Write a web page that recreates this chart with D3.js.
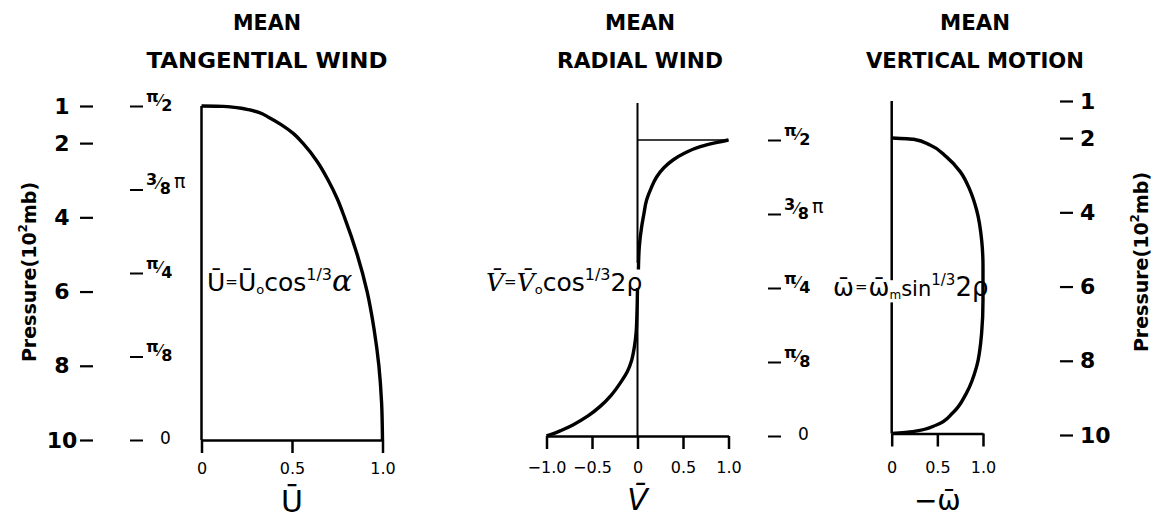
<!DOCTYPE html>
<html>
<head>
<meta charset="utf-8">
<script src="https://cdn.jsdelivr.net/npm/d3@7"></script>
<style>
  body { margin: 0; background: #fff; }
  svg { display: block; }
  text { font-family: "DejaVu Sans", sans-serif; fill: #000; }
</style>
</head>
<body>
<script>
// Pressure levels (10^2 mb) labelled on the outer axes
const pressureTicks = [1, 2, 4, 6, 8, 10];
// Angle ticks, in units of π
const angleTicks = [0, 0.125, 0.25, 0.375, 0.5];
const angleTickLabels = ["0", "π/8", "π/4", "3/8 π", "π/2"];

// Mean tangential wind ū/ū0 against pressure
const tangentialPressure = [1, 1.01, 1.03, 1.06, 1.1, 1.18, 1.3, 1.5, 1.75, 2, 2.5, 3, 3.5, 4, 5, 6, 7, 8, 9, 10];
const tangentialWind     = [0, 0.12, 0.17, 0.22, 0.26, 0.32, 0.37, 0.44, 0.51, 0.56, 0.64, 0.70, 0.75, 0.79, 0.86, 0.915, 0.953, 0.98, 0.995, 1.0];

// Mean radial wind v/v0: outflow branch aloft, inflow branch below
const radialUpperPressure = [2, 2.08, 2.18, 2.35, 2.54, 2.75, 3.0, 3.3, 3.62, 4.0, 4.34, 4.88, 5.5];
const radialUpperWind     = [1.0, 0.85, 0.69, 0.52, 0.39, 0.29, 0.21, 0.15, 0.10, 0.07, 0.046, 0.02, 0.01];
const radialLowerPressure = [6.0, 6.6, 7.2, 7.6, 7.95, 8.25, 8.57, 8.9, 9.2, 9.45, 9.7, 9.85, 9.95, 10];
const radialLowerWind     = [0.0, -0.005, -0.015, -0.035, -0.064, -0.11, -0.19, -0.29, -0.41, -0.54, -0.71, -0.84, -0.94, -1.0];

// Mean vertical motion -ω/ωm against pressure
const verticalPressure = [2, 2.035, 2.19, 2.51, 2.91, 3.41, 3.95, 4.76, 5.48, 6.39, 7.28, 8.19, 8.9, 9.44, 9.77, 9.95, 10];
const verticalMotion   = [0, 0.24, 0.42, 0.60, 0.75, 0.857, 0.93, 0.985, 1.0, 1.0, 0.985, 0.93, 0.82, 0.67, 0.49, 0.23, 0];

// Abscissa ticks of the three profiles
const uTicks = [0, 0.5, 1];
const uTickLabels = ["0", "0.5", "1.0"];
const vTicks = [-1, -0.5, 0, 0.5, 1];
const vTickLabels = ["−1.0", "−0.5", "0", "0.5", "1.0"];
const wTicks = [0, 0.5, 1];
const wTickLabels = ["0", "0.5", "1.0"];

const W = 1158, H = 523;
const svg = d3.select("body").append("svg").attr("width", W).attr("height", H);

const INK = "#000";
const zip = (ps, vs) => ps.map((p, i) => ({ p, v: vs[i] }));

// ---------- scales ----------
const yLeft  = d3.scaleLinear().domain([1, 10]).range([106, 440]);
const yMid   = d3.scaleLinear().domain([2, 10]).range([140, 436]);
const yRight = d3.scaleLinear().domain([2, 10]).range([138, 433.5]);
const yPressR = d3.scaleLinear().domain([1, 10]).range([101, 435]);

const aLeft = d3.scaleLinear().domain([0, 0.5]).range([440, 106]);
const aMid  = d3.scaleLinear().domain([0, 0.5]).range([436, 140]);

const xU = d3.scaleLinear().domain([0, 1]).range([201.5, 382.5]);
const xV = d3.scaleLinear().domain([-1, 1]).range([546.5, 728.5]);
const xW = d3.scaleLinear().domain([0, 1]).range([891.7, 983]);

// ---------- titles ----------
function title(cx, lines) {
  lines.forEach((l, i) => {
    svg.append("text")
      .attr("x", cx).attr("y", i === 0 ? 30 : 68)
      .attr("text-anchor", "middle")
      .attr("font-weight", "bold").attr("font-size", 22)
      .attr("textLength", l.len).attr("lengthAdjust", "spacingAndGlyphs")
      .text(l.t);
  });
}
title(267, [{ t: "MEAN", len: 68 }, { t: "TANGENTIAL WIND", len: 241 }]);
title(640, [{ t: "MEAN", len: 70 }, { t: "RADIAL WIND", len: 166 }]);
title(975, [{ t: "MEAN", len: 70 }, { t: "VERTICAL MOTION", len: 218 }]);

// ---------- helpers ----------
function styleAxis(g, w) {
  g.select(".domain").attr("stroke", INK).attr("stroke-width", w);
  g.selectAll(".tick line").attr("stroke", INK).attr("stroke-width", w);
}

// angle label written as a slanted fraction, e.g. π/2 or 3/8 π
function fractionLabel(textSel, label) {
  textSel.text(null);
  if (!label.includes("/")) {
    textSel.append("tspan").attr("dx", 14).attr("font-size", 17).text(label);
    return;
  }
  const [num, rest] = label.split("/");
  const parts = rest.split(" ");
  const den = parts[0], suffix = parts[1];
  textSel.append("tspan").attr("font-size", 16).attr("font-weight", "bold").attr("dy", "-0.3em").text(num);
  textSel.append("tspan").attr("font-size", 16).attr("dy", "0.25em").text("⁄");
  textSel.append("tspan").attr("font-size", 16).attr("font-weight", "bold").attr("dy", "0.3em").text(den);
  if (suffix) textSel.append("tspan").attr("font-size", 19).attr("dy", "-0.3em").attr("dx", 3).text(suffix);
}

function angleAxis(x, scale) {
  const g = svg.append("g").attr("transform", `translate(${x},0)`)
    .call(d3.axisRight(scale).tickValues(angleTicks).tickSize(13).tickPadding(3)
      .tickFormat((d, i) => angleTickLabels[i]));
  g.select(".domain").remove();
  g.selectAll(".tick line").attr("stroke", INK).attr("stroke-width", 2);
  g.selectAll(".tick text").each(function (d, i) {
    fractionLabel(d3.select(this).attr("fill", INK), angleTickLabels[i]);
  });
  return g;
}

function bottomAxis(y, scale, ticks, labels, pad) {
  const g = svg.append("g").attr("transform", `translate(0,${y})`)
    .call(d3.axisBottom(scale).tickValues(ticks).tickSize(13).tickSizeOuter(0).tickPadding(pad)
      .tickFormat((d, i) => labels[i]));
  styleAxis(g, 2.5);
  g.selectAll(".tick text").attr("fill", INK).attr("font-size", 16)
    .attr("font-family", "'DejaVu Sans', sans-serif");
  return g;
}

const lineGen = (x, y) => d3.line().x(d => x(d.v)).y(d => y(d.p)).curve(d3.curveMonotoneY);

function pressureTitle(x, y) {
  svg.append("text")
    .attr("transform", `translate(${x},${y}) rotate(-90)`)
    .attr("text-anchor", "middle").attr("font-size", 19).attr("font-weight", "bold")
    .call(t => {
      t.append("tspan").text("Pressure(10");
      t.append("tspan").attr("font-size", 12).attr("dy", -9).text("2");
      t.append("tspan").attr("dy", 9).text("mb)");
    });
}

// ---------- left pressure axis ----------
{
  const g = svg.append("g").attr("transform", "translate(93,0)")
    .call(d3.axisLeft(yLeft).tickValues(pressureTicks).tickSize(13).tickFormat(d3.format("d")));
  g.select(".domain").remove();
  g.selectAll(".tick line").attr("stroke", INK).attr("stroke-width", 2.2);
  g.selectAll(".tick text").attr("x", -31).attr("text-anchor", "middle")
    .attr("font-size", 22).attr("font-weight", "bold").attr("fill", INK)
    .attr("font-family", "'DejaVu Sans', sans-serif");
}
pressureTitle(36, 272);

// ---------- right pressure axis ----------
{
  const g = svg.append("g").attr("transform", "translate(1060,0)")
    .call(d3.axisRight(yPressR).tickValues(pressureTicks).tickSize(13).tickPadding(7).tickFormat(d3.format("d")));
  g.select(".domain").remove();
  g.selectAll(".tick line").attr("stroke", INK).attr("stroke-width", 2.2);
  g.selectAll(".tick text").attr("font-size", 22).attr("font-weight", "bold").attr("fill", INK)
    .attr("font-family", "'DejaVu Sans', sans-serif");
}
pressureTitle(1148, 262);

// ---------- angle axes ----------
angleAxis(130, aLeft);
angleAxis(768, aMid);

// ---------- tangential wind panel ----------
svg.append("line")
  .attr("x1", xU(0)).attr("x2", xU(0)).attr("y1", yLeft(1)).attr("y2", yLeft(10))
  .attr("stroke", INK).attr("stroke-width", 2.5);
bottomAxis(yLeft(10), xU, uTicks, uTickLabels, 10);
svg.append("path").datum(zip(tangentialPressure, tangentialWind))
  .attr("d", lineGen(xU, yLeft)).attr("fill", "none")
  .attr("stroke", INK).attr("stroke-width", 3.4).attr("stroke-linejoin", "round");

svg.append("text").attr("x", 207).attr("y", 291).attr("font-size", 25)
  .call(t => {
    t.append("tspan").text("Ū");
    t.append("tspan").attr("font-size", 15).attr("dy", -4).text("=");
    t.append("tspan").attr("dy", 4).text("Ū");
    t.append("tspan").attr("font-size", 13).attr("dy", 3).text("o");
    t.append("tspan").attr("dy", -3).text("cos");
    t.append("tspan").attr("font-size", 16).attr("dy", -11).text("1/3");
    t.append("tspan").attr("font-size", 30).attr("font-style", "italic").attr("dy", 11).attr("font-family", "'DejaVu Serif', serif").text("α");
  });
svg.append("text").attr("x", xU(0.5)).attr("y", 512).attr("text-anchor", "middle")
  .attr("font-size", 30).text("Ū");

// ---------- radial wind panel ----------
const gapMid = [5.32, 6.0];
svg.append("line")
  .attr("x1", xV(0)).attr("x2", xV(0)).attr("y1", yMid(1)).attr("y2", yMid(gapMid[0]))
  .attr("stroke", INK).attr("stroke-width", 2);
svg.append("line")
  .attr("x1", xV(0)).attr("x2", xV(0)).attr("y1", yMid(gapMid[1])).attr("y2", yMid(10))
  .attr("stroke", INK).attr("stroke-width", 2);
svg.append("line")
  .attr("x1", xV(0)).attr("x2", xV(1)).attr("y1", yMid(2)).attr("y2", yMid(2))
  .attr("stroke", INK).attr("stroke-width", 1.6);
bottomAxis(yMid(10), xV, vTicks, vTickLabels, 13);
svg.append("path").datum(zip(radialUpperPressure, radialUpperWind))
  .attr("d", lineGen(xV, yMid)).attr("fill", "none")
  .attr("stroke", INK).attr("stroke-width", 3.4).attr("stroke-linejoin", "round");
svg.append("path").datum(zip(radialLowerPressure, radialLowerWind))
  .attr("d", lineGen(xV, yMid)).attr("fill", "none")
  .attr("stroke", INK).attr("stroke-width", 3.4).attr("stroke-linejoin", "round");

svg.append("text").attr("x", 486).attr("y", 291).attr("font-size", 25)
  .call(t => {
    t.append("tspan").attr("font-style", "italic").attr("font-family", "'DejaVu Serif', serif").text("V̄");
    t.append("tspan").attr("font-size", 15).attr("dy", -4).text("=");
    t.append("tspan").attr("dy", 4).attr("font-style", "italic").attr("font-family", "'DejaVu Serif', serif").text("V̄");
    t.append("tspan").attr("font-size", 13).attr("dy", 3).text("o");
    t.append("tspan").attr("dy", -3).text("cos");
    t.append("tspan").attr("font-size", 16).attr("dy", -11).text("1/3");
    t.append("tspan").attr("dy", 11).text("2ρ");
  });
svg.append("text").attr("x", xV(0)).attr("y", 510).attr("text-anchor", "middle")
  .attr("font-size", 30).attr("font-style", "italic").attr("font-family", "'DejaVu Serif', serif").text("V̄");

// ---------- vertical motion panel ----------
const gapRight = [5.85, 6.45];
svg.append("line")
  .attr("x1", xW(0)).attr("x2", xW(0)).attr("y1", yPressR(1)).attr("y2", yRight(gapRight[0]))
  .attr("stroke", INK).attr("stroke-width", 2.5);
svg.append("line")
  .attr("x1", xW(0)).attr("x2", xW(0)).attr("y1", yRight(gapRight[1])).attr("y2", yRight(10))
  .attr("stroke", INK).attr("stroke-width", 2.5);
bottomAxis(yRight(10), xW, wTicks, wTickLabels, 15);
svg.append("path").datum(zip(verticalPressure, verticalMotion))
  .attr("d", lineGen(xW, yRight)).attr("fill", "none")
  .attr("stroke", INK).attr("stroke-width", 3.4).attr("stroke-linejoin", "round");

svg.append("text").attr("x", 833).attr("y", 296).attr("font-size", 25)
  .call(t => {
    t.append("tspan").text("ω̄");
    t.append("tspan").attr("font-size", 15).attr("dy", -4).attr("dx", 1).text("=");
    t.append("tspan").attr("dy", 4).attr("dx", 1).text("ω̄");
    t.append("tspan").attr("font-size", 12).attr("dy", 3).text("m");
    t.append("tspan").attr("dy", -3).attr("font-size", 21).text("sin");
    t.append("tspan").attr("font-size", 15).attr("dy", -11).text("1/3");
    t.append("tspan").attr("dy", 11).attr("font-size", 26).text("2ρ");
  });
svg.append("text").attr("x", xW(0.5)).attr("y", 510).attr("text-anchor", "middle")
  .attr("font-size", 28).text("−ω̄");
</script>
</body>
</html>
